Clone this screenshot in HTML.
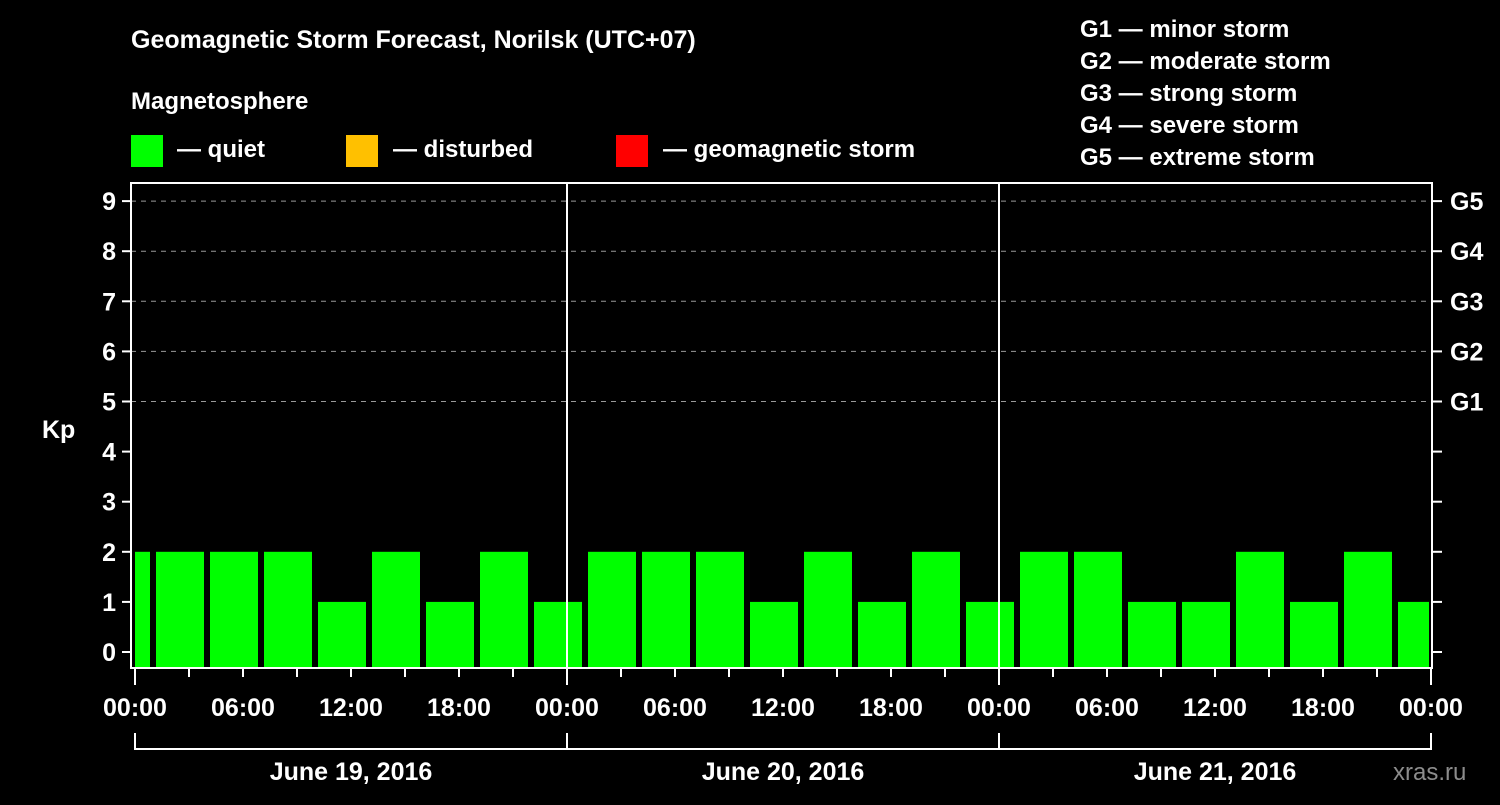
<!DOCTYPE html>
<html><head><meta charset="utf-8"><style>
body{margin:0;background:#000;width:1500px;height:800px;overflow:hidden}
text{font-family:"Liberation Sans",sans-serif;font-weight:bold;fill:#fff}
</style></head><body>
<svg id="c" width="1500" height="800" xmlns="http://www.w3.org/2000/svg">
<rect width="1500" height="800" fill="#000"/>
<text x="131" y="48" font-size="25">Geomagnetic Storm Forecast, Norilsk (UTC+07)</text>
<text x="131" y="109" font-size="24">Magnetosphere</text>
<g><rect x="131" y="135" width="32" height="32" fill="#00ff00"/><text x="177" y="157" font-size="24">— quiet</text></g>
<g><rect x="346" y="135" width="32" height="32" fill="#ffc000"/><text x="393" y="157" font-size="24">— disturbed</text></g>
<g><rect x="616" y="135" width="32" height="32" fill="#ff0000"/><text x="663" y="157" font-size="24">— geomagnetic storm</text></g>
<g font-size="24">
<text x="1080" y="37">G1 — minor storm</text>
<text x="1080" y="69">G2 — moderate storm</text>
<text x="1080" y="101">G3 — strong storm</text>
<text x="1080" y="133">G4 — severe storm</text>
<text x="1080" y="165">G5 — extreme storm</text>
</g>
<text x="42" y="438" font-size="25">Kp</text>
<text x="1393" y="780" font-size="24" fill="#888" style="fill:#8c8c8c;font-weight:normal">xras.ru</text>
<g id="g"></g>
</svg>
<script>
const kpValues=[2,2,2,2,1,2,1,2,1,2,2,2,1,2,1,2,1,2,2,1,1,2,1,2,1];
const barStartHours=[-2,1,4,7,10,13,16,19,22,25,28,31,34,37,40,43,46,49,52,55,58,61,64,67,70];
const yTicks=[0,1,2,3,4,5,6,7,8,9];
const gLabels=["G1","G2","G3","G4","G5"];
const gLevels=[5,6,7,8,9];
const timeLabels=["00:00","06:00","12:00","18:00"];
const dayLabels=["June 19, 2016","June 20, 2016","June 21, 2016"];
const NS="http://www.w3.org/2000/svg",G=document.getElementById("g");
const L=131,R=1432,T=183,B=668;
const X=h=>135+h*18, Y=v=>652-v*50.1;
function mk(t,a,p){const e=document.createElementNS(NS,t);for(const k in a)e.setAttribute(k,a[k]);(p||G).appendChild(e);return e;}
// grid
gLevels.forEach((v,i)=>{
 const l=mk("line",{x1:L,x2:R,y1:Y(v),y2:Y(v),stroke:"#999","stroke-dasharray":"5,5","stroke-width":1});
 
 
 const t=mk("text",{x:1450,y:Y(v)+9,"font-size":25});t.textContent=gLabels[i];
 
 
});
// bars
const cp=mk("clipPath",{id:"cp"});mk("rect",{x:L+4,y:T,width:R-L-7,height:B-T},cp);
kpValues.forEach((v,i)=>{
 const h=barStartHours[i],x0=X(h)+3,x1=X(h+3)-3;
 const b=mk("rect",{x:x0,y:Y(v),width:x1-x0,height:667-Y(v),fill:"#00ff00","clip-path":"url(#cp)"});
 
 
});
// day separators
[1,2].forEach(d=>{const l=mk("line",{x1:X(24*d),x2:X(24*d),y1:T,y2:B,stroke:"#fff","stroke-width":2});
 
 });
// frame
const f=mk("rect",{x:L,y:T,width:R-L,height:B-T,fill:"none",stroke:"#fff","stroke-width":2});


// y ticks
yTicks.forEach(v=>{
 mk("line",{x1:122,x2:L,y1:Y(v),y2:Y(v),stroke:"#fff","stroke-width":2});
 mk("line",{x1:R,x2:1442,y1:Y(v),y2:Y(v),stroke:"#fff","stroke-width":2});
 const t=mk("text",{x:116,y:Y(v)+9,"font-size":25,"text-anchor":"end"});t.textContent=v;
 
 
});
// x ticks
for(let h=0;h<=72;h+=3){
 const day=h%24===0;
 mk("line",{x1:X(h),x2:X(h),y1:B,y2:day?685:677,stroke:"#fff","stroke-width":2});
 if(h%6===0){const t=mk("text",{x:X(h),y:716,"font-size":25,"text-anchor":"middle"});t.textContent=timeLabels[(h/6)%4];
 
 }
}
// day brackets
mk("path",{d:`M${X(0)} 733V749H${X(72)}V733M${X(24)} 733V749M${X(48)} 733V749`,fill:"none",stroke:"#fff","stroke-width":2});
dayLabels.forEach((d,i)=>{const t=mk("text",{x:X(24*i+12),y:780,"font-size":25,"text-anchor":"middle"});t.textContent=d;
 
 });
</script>
</body></html>
